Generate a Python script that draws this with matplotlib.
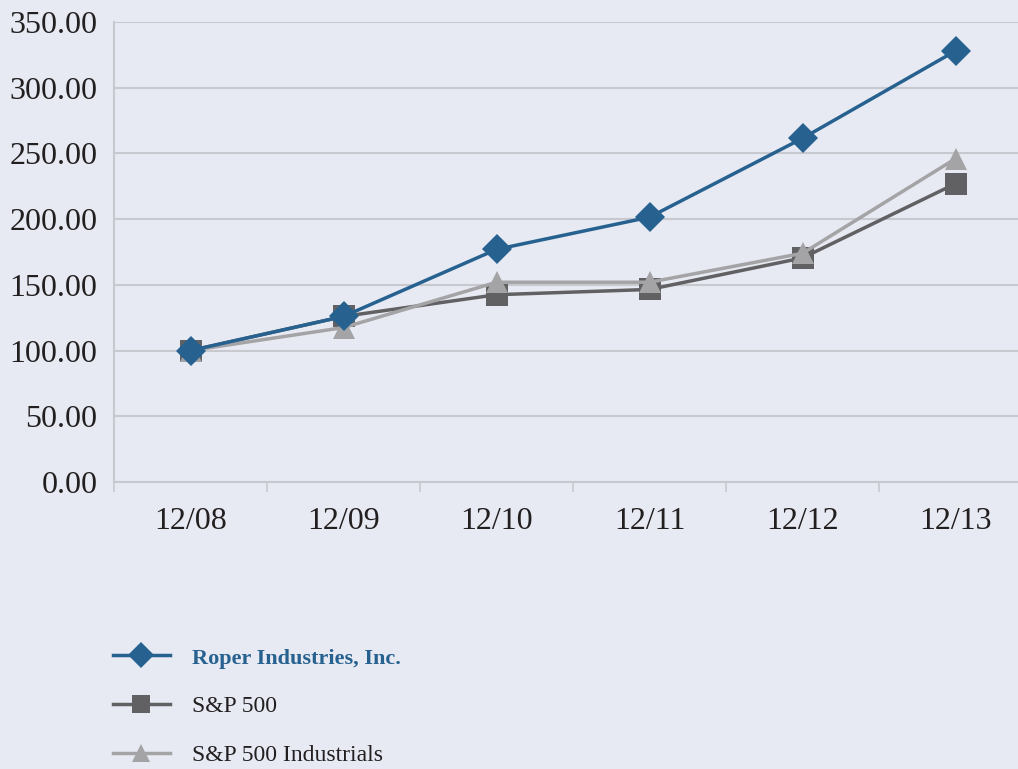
import matplotlib
matplotlib.use("Agg")
import matplotlib.pyplot as plt
import numpy as np

categories = ["12/08", "12/09", "12/10", "12/11", "12/12", "12/13"]
roper = [100.0, 126.0, 177.0, 201.5, 261.5, 328.0]
sp500 = [100.0, 126.0, 142.5, 146.5, 170.5, 227.0]
industrials = [100.0, 117.5, 152.0, 152.0, 174.0, 246.0]
yticks = [0, 50, 100, 150, 200, 250, 300, 350]

BG = "#e7eaf2"
C_ROPER = "#276190"
C_SP = "#616163"
C_IND = "#a4a4a6"
GRID = "#c8c9ce"
TXT = "#231f20"

plt.rcParams['font.family'] = ['Liberation Serif', 'DejaVu Serif']

W, H = 1018, 769
fig = plt.figure(figsize=(W/100, H/100), dpi=100, facecolor=BG)
left, right = 114, 114 + 6*153
top, bottom = 22, 482
ax = fig.add_axes([left/W, 1 - bottom/H, (right-left)/W, (bottom-top)/H])
ax.set_facecolor(BG)

x = np.arange(len(categories))
l_sp, = ax.plot(x, sp500, color=C_SP, lw=2.5, marker='s', ms=16,
                markeredgewidth=0, label="S&P 500", zorder=2.5)
l_ind, = ax.plot(x, industrials, color=C_IND, lw=2.5, marker='^', ms=16,
                 markeredgewidth=0, label="S&P 500 Industrials", zorder=3)
l_roper, = ax.plot(x, roper, color=C_ROPER, lw=2.5, marker='D', ms=15,
                   markeredgewidth=0, label="Roper Industries, Inc.", zorder=4)

ax.set_xlim(-0.5, len(categories) - 0.5)
ax.set_ylim(0, 350)
ax.set_yticks(yticks)
ax.set_yticklabels([f"{v:.2f}" for v in yticks])
ax.set_xticks(x)
ax.set_xticklabels(categories)
ax.set_xticks(np.arange(-0.5, len(categories), 1.0), minor=True)

ax.grid(axis='y', color=GRID, lw=1.5, zorder=0)
ax.set_axisbelow(True)
for s in ['top', 'right']:
    ax.spines[s].set_visible(False)
ax.spines['left'].set_color(GRID)
ax.spines['left'].set_linewidth(1.5)
ax.spines['bottom'].set_color(GRID)
ax.spines['bottom'].set_linewidth(1.5)

ax.tick_params(axis='y', length=0, pad=12, labelsize=23, labelcolor=TXT)
ax.tick_params(axis='x', which='major', length=0, pad=18, labelsize=23, labelcolor=TXT)
ax.tick_params(axis='x', which='minor', length=7, width=1.2, color=GRID, direction='out')

leg = fig.legend(handles=[l_roper, l_sp, l_ind], loc='upper left',
                 bbox_to_anchor=(113/W, 1 - 647/H), frameon=False,
                 fontsize=17, labelspacing=1.15, handlelength=2.4,
                 handletextpad=0.95, borderaxespad=0, borderpad=0)
for h in leg.legend_handles:
    h.set_markersize(13)
texts = leg.get_texts()
texts[0].set_color(C_ROPER)
texts[0].set_fontweight('bold')
texts[0].set_fontsize(16)
for t in texts[1:]:
    t.set_color(TXT)

fig.savefig("out.png", dpi=100, facecolor=BG)
